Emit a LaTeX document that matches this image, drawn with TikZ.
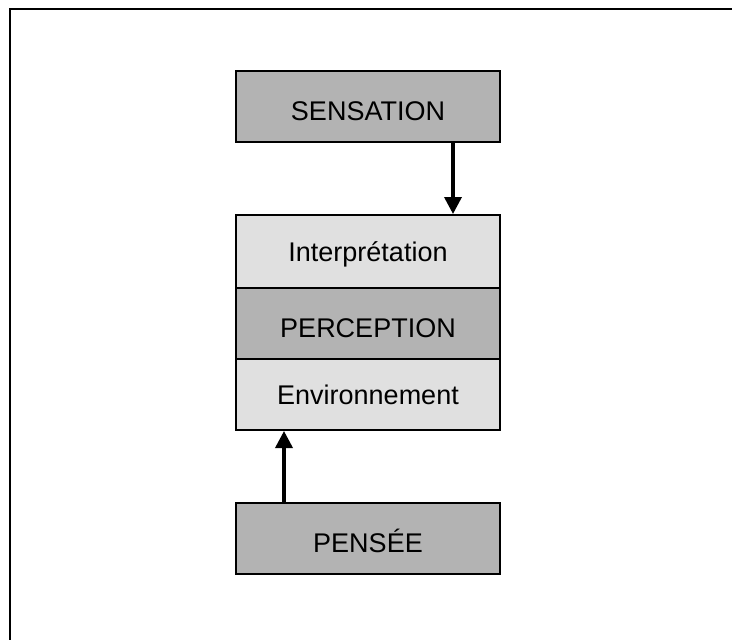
\documentclass[tikz,border=0pt]{standalone}
\usepackage{fontspec}
\setmainfont{Liberation Sans}
\usetikzlibrary{arrows.meta}
\definecolor{darkfill}{RGB}{179,179,179}
\definecolor{lightfill}{RGB}{224,224,224}
\tikzset{
  box/.style={draw=black, line width=2pt, minimum width=264pt, inner sep=0pt,
              font=\fontsize{27}{32}\selectfont, anchor=north west},
  darkbox/.style={box, fill=darkfill, text height=30pt, text depth=1.6pt},
  lightbox/.style={box, fill=lightfill, text height=24pt, text depth=4.6pt},
  link/.style={line width=3.5pt, -{Triangle[length=17pt, width=17pt]}}
}
\begin{document}
\begin{tikzpicture}[x=1pt, y=-1pt]
  \useasboundingbox (0,0) rectangle (732,640);
  % frame running off the right and bottom of the page
  \draw[line width=2pt] (10,645) -- (10,9) -- (740,9);
  % boxes
  \node[darkbox, minimum height=71pt] (sens) at (235,70) {SENSATION};
  \node[lightbox, minimum height=73pt] (interp) at (235,214) {Interprétation};
  \node[darkbox, minimum height=71pt] (perc) at (235,287) {PERCEPTION};
  \node[lightbox, minimum height=71pt] (env) at (235,358) {Environnement};
  \node[darkbox, minimum height=71pt] (pens) at (235,502) {PENSÉE};
  % connectors
  \coordinate (a1) at ([xshift=85pt]sens.south);
  \coordinate (a2) at ([xshift=85pt]interp.north);
  \coordinate (b1) at ([xshift=-84pt]pens.north);
  \coordinate (b2) at ([xshift=-84pt]env.south);
  \draw[link] (a1) -- (a2);
  \draw[link] (b1) -- (b2);
\end{tikzpicture}
\end{document}
